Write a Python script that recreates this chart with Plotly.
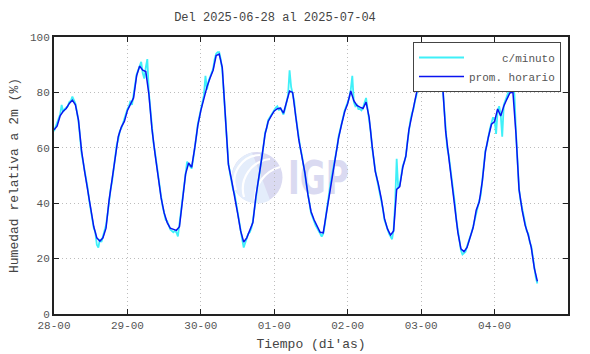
import base64
import pandas as pd
import plotly.graph_objects as go

# ---------------- data ----------------
START = "2025-06-28 00:00"

# hourly mean, one list per day (hours 0..23)
hourly_28 = [66.5, 67.8, 71.5, 73.2, 74.2, 76, 77.2, 75.5, 70, 59, 51.5, 45, 37.5, 31.5, 27.5, 26.3,
             27.5, 31, 41, 48.5, 57, 64, 67.5, 69.5]
hourly_29 = [73.5, 76, 78, 86, 89.5, 88, 87.5, 79.5, 67, 58, 50, 42, 36.5, 33, 31, 30.6,
             30.2, 31.5, 41, 50.5, 54.5, 53, 60, 68]
hourly_30 = [73.5, 78, 82, 85.2, 88, 93.3, 93.8, 89, 73, 54, 48.5, 43, 36.5, 30, 26, 27.5,
             30, 33, 42.5, 49, 57, 65, 69.5, 71.5]
hourly_01 = [73.3, 74.1, 74.3, 72.5, 76.5, 80.5, 80, 72, 63, 57, 51, 43, 37, 34, 31.5, 29.5,
             29.3, 36, 44, 50.5, 56, 63.5, 68.5, 73]
hourly_02 = [76, 80.5, 77, 75.3, 74.7, 74.2, 76.5, 71, 60.5, 51.5, 47, 41.5, 34.5, 30.7, 28.5, 30,
             45, 46, 53, 57, 66.5, 72, 76.5, 82.5]
hourly_03 = [84.6, 87.8, 92, 91.5, 90.3, 88.5, 86, 83, 66, 57, 49.5, 40.5, 29.5, 23.5, 22.5, 24,
             27.8, 31.2, 37.5, 40.5, 48, 58.5, 64, 68.5]
hourly_04 = [69.5, 74, 71.5, 75, 77.5, 79.8, 80.1, 65, 45, 37.5, 32, 28.5, 24, 16.5, 11.8]

# per-minute series, sampled every 30 minutes (estimated from the cyan trace)
minute_28 = [66, 67.5, 68.5, 70, 72, 75.5, 73, 74, 74.5, 75, 76.5, 77, 78.5, 77, 76, 73,
             69.5, 64, 58, 55, 52, 48, 45.5, 41, 38, 34, 31, 29.5, 25, 24, 27, 26,
             28, 29, 32, 36, 41.5, 45, 48, 53, 58, 61, 63, 66, 67, 69, 70, 72]
minute_29 = [74, 75, 77, 75.5, 79, 84, 86.5, 88, 90, 91, 87, 85, 89, 92, 80, 73,
             67.5, 62, 58.5, 54, 50.5, 46, 42.5, 39, 36, 34, 33.5, 31.5, 30.5, 30, 29.5, 30,
             29.5, 28, 32, 36, 41.5, 46, 51, 55, 54, 53, 52.5, 56, 61, 64, 68.5, 71]
minute_30 = [74, 76, 79, 86, 81, 84, 85.5, 87, 88.5, 92, 94, 94.5, 94.5, 92, 88, 80,
             72, 62, 54.5, 51, 48, 45, 43.5, 40, 36, 33, 29.5, 27, 24, 26, 28, 29,
             29.5, 31, 33.5, 38, 43, 46, 49.5, 53, 57.5, 61, 65.5, 67, 70, 71, 72, 73]
minute_01 = [74, 74.5, 75, 73.5, 74.5, 73, 72, 74, 77, 79, 88, 82, 79.5, 77, 71.5, 67,
             62.5, 60, 57.5, 54, 50, 46, 43.5, 40, 36.5, 35, 33, 32, 31, 30, 28.5, 28,
             29, 32, 36.5, 41, 44.5, 48, 51, 54, 56.5, 60, 64, 66, 69, 71, 73.5, 75]
minute_02 = [76.5, 78, 81, 86, 76.5, 75, 75.5, 74, 74, 73.5, 74.5, 76, 78, 74, 70.5, 66,
             60, 55, 52, 49, 46.5, 44, 41, 38, 34, 32, 30, 29, 28, 27, 30.5, 40,
             56, 45.5, 46.5, 50, 53.5, 55, 57, 62, 67, 70, 72.5, 74, 77, 79, 83, 84]
minute_03 = [82, 88, 86, 91, 93, 92.5, 91, 90, 89.5, 87, 89, 86.5, 86.5, 84, 82.5, 75,
             65.5, 60, 57.5, 53, 50, 45, 40, 34, 30, 26, 23, 21.5, 22, 22.5, 24.5, 26,
             28, 29.5, 31.5, 34, 37, 39, 41, 43, 48.5, 52, 59, 61, 64.5, 67, 69, 71]
minute_04 = [70, 65, 73.5, 75, 72, 64, 75.5, 77, 78, 80, 84, 81, 85, 79, 65.5, 55,
             45, 41, 38, 35, 32.5, 30, 29, 26, 24.5, 20, 16, 13, 11]

TICK_DATES = ["2025-06-28", "2025-06-29", "2025-06-30", "2025-07-01",
              "2025-07-02", "2025-07-03", "2025-07-04"]
TICK_TEXT = ["28-00", "29-00", "30-00", "01-00", "02-00", "03-00", "04-00"]
Y_TICKS = [0, 20, 40, 60, 80, 100]

TITLE = "Del 2025-06-28 al 2025-07-04"
XTITLE = "Tiempo (di'as)"
YTITLE = "Humedad relativa a 2m (%)"
NAME_MIN = "c/minuto"
NAME_HOUR = "prom. horario"

# ---------------- build series ----------------
hourly = hourly_28 + hourly_29 + hourly_30 + hourly_01 + hourly_02 + hourly_03 + hourly_04
minute = minute_28 + minute_29 + minute_30 + minute_01 + minute_02 + minute_03 + minute_04
t_hour = pd.date_range(START, periods=len(hourly), freq="1h")
t_min = pd.date_range(START, periods=len(minute), freq="30min")

FONT = "Liberation Mono, Courier New, monospace"
GRAY = "#555555"
pad = "\u00a0" * (len(NAME_HOUR) - len(NAME_MIN))  # right-align legend labels (monospace)

fig = go.Figure()
fig.add_trace(go.Scatter(x=t_min, y=minute, mode="lines", name=pad + NAME_MIN,
                         line=dict(color="#3ff0f8", width=1.8)))
fig.add_trace(go.Scatter(x=t_hour, y=hourly, mode="lines", name=NAME_HOUR,
                         line=dict(color="#0a14f0", width=1.5)))

# watermark logo (drawn below the data)
svg = ('<svg xmlns="http://www.w3.org/2000/svg" width="120" height="56" viewBox="0 0 120 56">'
       '<circle cx="27" cy="27.5" r="25.5" fill="#dadaf1"/>'
       '<path d="M2 30 A 25.5 25.5 0 0 1 22 2.5 L 40 50 A 25.5 25.5 0 0 1 2 30 Z" fill="#e4edfb"/>'
       '<path d="M6 40 A 26 26 0 0 1 30 5" stroke="#ffffff" stroke-width="2.2" fill="none"/>'
       '<path d="M14 47 A 30 30 0 0 1 40 9" stroke="#ffffff" stroke-width="2.2" fill="none"/>'
       '<path d="M25 53 A 34 34 0 0 1 50 17" stroke="#ffffff" stroke-width="2.2" fill="none"/>'
       '<text x="58" y="44" font-family="DejaVu Sans" font-weight="bold" font-size="46" '
       'textLength="61" lengthAdjust="spacingAndGlyphs" fill="#dadaf1">IGP</text></svg>')
src = "data:image/svg+xml;base64," + base64.b64encode(svg.encode()).decode()
L, R, T, B = 54, 568, 37, 314
W, H = R - L, B - T
fig.add_layout_image(dict(source=src, xref="paper", yref="paper",
                          x=(230 - L) / W, y=(B - 150) / H, sizex=120 / W, sizey=56 / H,
                          xanchor="left", yanchor="top", sizing="stretch", layer="below"))

axis_common = dict(showline=True, linewidth=2, linecolor="#222222", mirror="allticks",
                   ticks="inside", ticklen=5, tickwidth=1.2, tickcolor="#222222",
                   showgrid=True, gridcolor="#bdbdbd", griddash="1px,3px", gridwidth=1,
                   zeroline=False, tickfont=dict(family=FONT, size=11, color=GRAY))

fig.update_xaxes(type="date", range=["2025-06-28 00:00", "2025-07-05 00:00"],
                 tickvals=TICK_DATES, ticktext=TICK_TEXT,
                 title=dict(text=XTITLE, font=dict(family=FONT, size=13, color="#444444"),
                            standoff=8),
                 **axis_common)
fig.update_yaxes(range=[0, 100], tickvals=Y_TICKS,
                 title=dict(text=YTITLE, font=dict(family=FONT, size=13, color="#444444"),
                            standoff=8),
                 **axis_common)

fig.update_layout(
    width=590, height=354,
    margin=dict(l=L, r=590 - R, t=T, b=354 - B, autoexpand=False),
    paper_bgcolor="white", plot_bgcolor="white",
    title=dict(text=TITLE, x=275 / 590, xanchor="center", y=1 - 17 / 354, yanchor="middle",
               font=dict(family=FONT, size=12, color="#444444")),
    showlegend=True,
    legend=dict(x=(561 - L) / W, y=(B - 42) / H, xanchor="right", yanchor="top",
                bgcolor="white", bordercolor="#444444", borderwidth=1,
                font=dict(family=FONT, size=11, color=GRAY),
                itemwidth=45, tracegroupgap=0),
)

fig.write_html("out.html")
